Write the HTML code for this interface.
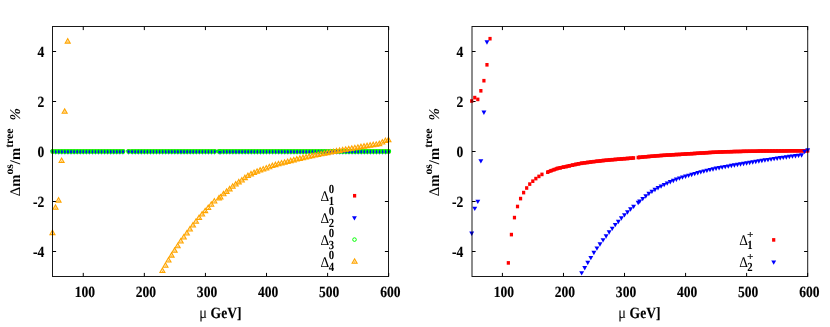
<!DOCTYPE html>
<html><head><meta charset="utf-8"><title>chart</title>
<style>html,body{margin:0;padding:0;background:#fff;}body{width:830px;height:327px;overflow:hidden;font-family:"Liberation Serif",serif;}svg{display:block;will-change:transform}svg text{text-rendering:geometricPrecision}</style>
</head><body>
<svg width="830" height="327" viewBox="0 0 830 327">
<rect width="830" height="327" fill="#fff"/>
<path d="M83.25 276.5v-3.6M83.25 26.5v3.6M144.34 276.5v-3.6M144.34 26.5v3.6M205.43 276.5v-3.6M205.43 26.5v3.6M266.52 276.5v-3.6M266.52 26.5v3.6M327.61 276.5v-3.6M327.61 26.5v3.6M388.70 276.5v-3.6M388.70 26.5v3.6M52.5 251.5h3.6M388.5 251.5h-3.6M52.5 201.5h3.6M388.5 201.5h-3.6M52.5 151.5h3.6M388.5 151.5h-3.6M52.5 101.5h3.6M388.5 101.5h-3.6M52.5 51.5h3.6M388.5 51.5h-3.6" stroke="#000" stroke-width="1" fill="none"/>
<g font-family="Liberation Serif" font-weight="bold" stroke="#000" stroke-width="0.15"><text transform="translate(44.30,256.60) scale(0.87,1)" text-anchor="end" font-size="15.6" >-4</text><text transform="translate(44.30,206.60) scale(0.87,1)" text-anchor="end" font-size="15.6" >-2</text><text transform="translate(44.30,156.60) scale(0.87,1)" text-anchor="end" font-size="15.6" >0</text><text transform="translate(44.30,106.60) scale(0.87,1)" text-anchor="end" font-size="15.6" >2</text><text transform="translate(44.30,56.60) scale(0.87,1)" text-anchor="end" font-size="15.6" >4</text><text transform="translate(84.85,296.60) scale(0.87,1)" text-anchor="middle" font-size="15.6" >100</text><text transform="translate(145.94,296.60) scale(0.87,1)" text-anchor="middle" font-size="15.6" >200</text><text transform="translate(207.03,296.60) scale(0.87,1)" text-anchor="middle" font-size="15.6" >300</text><text transform="translate(268.12,296.60) scale(0.87,1)" text-anchor="middle" font-size="15.6" >400</text><text transform="translate(329.21,296.60) scale(0.87,1)" text-anchor="middle" font-size="15.6" >500</text><text transform="translate(390.30,296.60) scale(0.87,1)" text-anchor="middle" font-size="15.6" >600</text></g>
<text transform="translate(19.799999999999997,196.3) rotate(-90)" font-family="Liberation Serif" font-size="14.7" font-weight="bold"><tspan font-weight="normal">Δ</tspan>m<tspan font-size="11.7" dy="-6.6">os</tspan><tspan dy="6.6">/m</tspan><tspan font-size="11.7" dy="-6.6">tree</tspan><tspan dy="6.6" font-weight="bold" font-style="italic" font-size="14.9" dx="8.0">%</tspan></text>
<g font-family="Liberation Serif" font-weight="bold" stroke="#000" stroke-width="0.15"><text transform="translate(199.20,318.20) scale(0.87,1)" text-anchor="start" font-size="15.6" ><tspan font-weight="normal" stroke="none" font-size="16.6">μ</tspan><tspan dx="0.3"> GeV]</tspan></text></g>
<path d="M502.42 276.5v-3.6M502.42 26.5v3.6M563.48 276.5v-3.6M563.48 26.5v3.6M624.52 276.5v-3.6M624.52 26.5v3.6M685.58 276.5v-3.6M685.58 26.5v3.6M746.62 276.5v-3.6M746.62 26.5v3.6M807.67 276.5v-3.6M807.67 26.5v3.6M472.0 251.5h3.6M807.7 251.5h-3.6M472.0 201.5h3.6M807.7 201.5h-3.6M472.0 151.5h3.6M807.7 151.5h-3.6M472.0 101.5h3.6M807.7 101.5h-3.6M472.0 51.5h3.6M807.7 51.5h-3.6" stroke="#000" stroke-width="1" fill="none"/>
<g font-family="Liberation Serif" font-weight="bold" stroke="#000" stroke-width="0.15"><text transform="translate(463.30,256.60) scale(0.87,1)" text-anchor="end" font-size="15.6" >-4</text><text transform="translate(463.30,206.60) scale(0.87,1)" text-anchor="end" font-size="15.6" >-2</text><text transform="translate(463.30,156.60) scale(0.87,1)" text-anchor="end" font-size="15.6" >0</text><text transform="translate(463.30,106.60) scale(0.87,1)" text-anchor="end" font-size="15.6" >2</text><text transform="translate(463.30,56.60) scale(0.87,1)" text-anchor="end" font-size="15.6" >4</text><text transform="translate(503.85,296.60) scale(0.87,1)" text-anchor="middle" font-size="15.6" >100</text><text transform="translate(564.94,296.60) scale(0.87,1)" text-anchor="middle" font-size="15.6" >200</text><text transform="translate(626.03,296.60) scale(0.87,1)" text-anchor="middle" font-size="15.6" >300</text><text transform="translate(687.12,296.60) scale(0.87,1)" text-anchor="middle" font-size="15.6" >400</text><text transform="translate(748.21,296.60) scale(0.87,1)" text-anchor="middle" font-size="15.6" >500</text><text transform="translate(809.30,296.60) scale(0.87,1)" text-anchor="middle" font-size="15.6" >600</text></g>
<text transform="translate(438.8,196.3) rotate(-90)" font-family="Liberation Serif" font-size="14.7" font-weight="bold"><tspan font-weight="normal">Δ</tspan>m<tspan font-size="11.7" dy="-6.6">os</tspan><tspan dy="6.6">/m</tspan><tspan font-size="11.7" dy="-6.6">tree</tspan><tspan dy="6.6" font-weight="bold" font-style="italic" font-size="14.9" dx="8.0">%</tspan></text>
<g font-family="Liberation Serif" font-weight="bold" stroke="#000" stroke-width="0.15"><text transform="translate(618.20,318.20) scale(0.87,1)" text-anchor="start" font-size="15.6" ><tspan font-weight="normal" stroke="none" font-size="16.6">μ</tspan><tspan dx="0.3"> GeV]</tspan></text></g>
<g fill="#ff0000"><rect x="51.10" y="149.55" width="3.20" height="3.60"/><rect x="54.15" y="149.55" width="3.20" height="3.60"/><rect x="57.21" y="149.55" width="3.20" height="3.60"/><rect x="60.26" y="149.55" width="3.20" height="3.60"/><rect x="63.32" y="149.55" width="3.20" height="3.60"/><rect x="66.37" y="149.55" width="3.20" height="3.60"/><rect x="69.43" y="149.55" width="3.20" height="3.60"/><rect x="72.48" y="149.55" width="3.20" height="3.60"/><rect x="75.54" y="149.55" width="3.20" height="3.60"/><rect x="78.59" y="149.55" width="3.20" height="3.60"/><rect x="81.65" y="149.55" width="3.20" height="3.60"/><rect x="84.70" y="149.55" width="3.20" height="3.60"/><rect x="87.75" y="149.55" width="3.20" height="3.60"/><rect x="90.81" y="149.55" width="3.20" height="3.60"/><rect x="93.86" y="149.55" width="3.20" height="3.60"/><rect x="96.92" y="149.55" width="3.20" height="3.60"/><rect x="99.97" y="149.55" width="3.20" height="3.60"/><rect x="103.03" y="149.55" width="3.20" height="3.60"/><rect x="106.08" y="149.55" width="3.20" height="3.60"/><rect x="109.14" y="149.55" width="3.20" height="3.60"/><rect x="112.19" y="149.55" width="3.20" height="3.60"/><rect x="115.25" y="149.55" width="3.20" height="3.60"/><rect x="118.30" y="149.55" width="3.20" height="3.60"/><rect x="121.35" y="149.55" width="3.20" height="3.60"/><rect x="127.04" y="149.55" width="3.20" height="3.60"/><rect x="130.52" y="149.55" width="3.20" height="3.60"/><rect x="133.57" y="149.55" width="3.20" height="3.60"/><rect x="136.63" y="149.55" width="3.20" height="3.60"/><rect x="139.68" y="149.55" width="3.20" height="3.60"/><rect x="142.74" y="149.55" width="3.20" height="3.60"/><rect x="145.79" y="149.55" width="3.20" height="3.60"/><rect x="148.85" y="149.55" width="3.20" height="3.60"/><rect x="151.90" y="149.55" width="3.20" height="3.60"/><rect x="154.95" y="149.55" width="3.20" height="3.60"/><rect x="158.01" y="149.55" width="3.20" height="3.60"/><rect x="161.06" y="149.55" width="3.20" height="3.60"/><rect x="164.12" y="149.55" width="3.20" height="3.60"/><rect x="167.17" y="149.55" width="3.20" height="3.60"/><rect x="170.23" y="149.55" width="3.20" height="3.60"/><rect x="173.28" y="149.55" width="3.20" height="3.60"/><rect x="176.34" y="149.55" width="3.20" height="3.60"/><rect x="179.39" y="149.55" width="3.20" height="3.60"/><rect x="182.45" y="149.55" width="3.20" height="3.60"/><rect x="185.50" y="149.55" width="3.20" height="3.60"/><rect x="188.55" y="149.55" width="3.20" height="3.60"/><rect x="191.61" y="149.55" width="3.20" height="3.60"/><rect x="194.66" y="149.55" width="3.20" height="3.60"/><rect x="197.72" y="149.55" width="3.20" height="3.60"/><rect x="200.77" y="149.55" width="3.20" height="3.60"/><rect x="203.83" y="149.55" width="3.20" height="3.60"/><rect x="206.88" y="149.55" width="3.20" height="3.60"/><rect x="209.94" y="149.55" width="3.20" height="3.60"/><rect x="212.99" y="149.55" width="3.20" height="3.60"/><rect x="217.57" y="149.55" width="3.20" height="3.60"/><rect x="219.10" y="149.55" width="3.20" height="3.60"/><rect x="222.15" y="149.55" width="3.20" height="3.60"/><rect x="225.21" y="149.55" width="3.20" height="3.60"/><rect x="228.26" y="149.55" width="3.20" height="3.60"/><rect x="231.32" y="149.55" width="3.20" height="3.60"/><rect x="234.37" y="149.55" width="3.20" height="3.60"/><rect x="237.43" y="149.55" width="3.20" height="3.60"/><rect x="240.48" y="149.55" width="3.20" height="3.60"/><rect x="243.54" y="149.55" width="3.20" height="3.60"/><rect x="246.59" y="149.55" width="3.20" height="3.60"/><rect x="249.65" y="149.55" width="3.20" height="3.60"/><rect x="252.70" y="149.55" width="3.20" height="3.60"/><rect x="255.75" y="149.55" width="3.20" height="3.60"/><rect x="258.81" y="149.55" width="3.20" height="3.60"/><rect x="261.86" y="149.55" width="3.20" height="3.60"/><rect x="264.92" y="149.55" width="3.20" height="3.60"/><rect x="267.97" y="149.55" width="3.20" height="3.60"/><rect x="271.03" y="149.55" width="3.20" height="3.60"/><rect x="274.08" y="149.55" width="3.20" height="3.60"/><rect x="277.14" y="149.55" width="3.20" height="3.60"/><rect x="280.19" y="149.55" width="3.20" height="3.60"/><rect x="283.25" y="149.55" width="3.20" height="3.60"/><rect x="286.30" y="149.55" width="3.20" height="3.60"/><rect x="289.35" y="149.55" width="3.20" height="3.60"/><rect x="292.41" y="149.55" width="3.20" height="3.60"/><rect x="295.46" y="149.55" width="3.20" height="3.60"/><rect x="298.52" y="149.55" width="3.20" height="3.60"/><rect x="301.57" y="149.55" width="3.20" height="3.60"/><rect x="304.63" y="149.55" width="3.20" height="3.60"/><rect x="307.68" y="149.55" width="3.20" height="3.60"/><rect x="310.74" y="149.55" width="3.20" height="3.60"/><rect x="313.79" y="149.55" width="3.20" height="3.60"/><rect x="316.85" y="149.55" width="3.20" height="3.60"/><rect x="319.90" y="149.55" width="3.20" height="3.60"/><rect x="322.95" y="149.55" width="3.20" height="3.60"/><rect x="326.01" y="149.55" width="3.20" height="3.60"/><rect x="329.06" y="149.55" width="3.20" height="3.60"/><rect x="332.12" y="149.55" width="3.20" height="3.60"/><rect x="335.17" y="149.55" width="3.20" height="3.60"/><rect x="338.23" y="149.55" width="3.20" height="3.60"/><rect x="341.28" y="149.55" width="3.20" height="3.60"/><rect x="344.34" y="149.55" width="3.20" height="3.60"/><rect x="347.39" y="149.55" width="3.20" height="3.60"/><rect x="350.45" y="149.55" width="3.20" height="3.60"/><rect x="353.50" y="149.55" width="3.20" height="3.60"/><rect x="356.55" y="149.55" width="3.20" height="3.60"/><rect x="359.61" y="149.55" width="3.20" height="3.60"/><rect x="362.66" y="149.55" width="3.20" height="3.60"/><rect x="365.72" y="149.55" width="3.20" height="3.60"/><rect x="368.77" y="149.55" width="3.20" height="3.60"/><rect x="371.83" y="149.55" width="3.20" height="3.60"/><rect x="374.88" y="149.55" width="3.20" height="3.60"/><rect x="377.94" y="149.55" width="3.20" height="3.60"/><rect x="380.99" y="149.55" width="3.20" height="3.60"/><rect x="384.05" y="149.55" width="3.20" height="3.60"/><rect x="387.10" y="149.55" width="3.20" height="3.60"/><rect x="353.00" y="193.95" width="3.20" height="3.60"/></g>
<g fill="#0000ff"><path d="M50.25 150.05H55.15L52.70 154.45z"/><path d="M53.30 150.05H58.20L55.75 154.45z"/><path d="M56.36 150.05H61.26L58.81 154.45z"/><path d="M59.41 150.05H64.31L61.86 154.45z"/><path d="M62.47 150.05H67.37L64.92 154.45z"/><path d="M65.52 150.05H70.42L67.97 154.45z"/><path d="M68.58 150.05H73.48L71.03 154.45z"/><path d="M71.63 150.05H76.53L74.08 154.45z"/><path d="M74.69 150.05H79.59L77.14 154.45z"/><path d="M77.74 150.05H82.64L80.19 154.45z"/><path d="M80.80 150.05H85.70L83.25 154.45z"/><path d="M83.85 150.05H88.75L86.30 154.45z"/><path d="M86.90 150.05H91.80L89.35 154.45z"/><path d="M89.96 150.05H94.86L92.41 154.45z"/><path d="M93.01 150.05H97.91L95.46 154.45z"/><path d="M96.07 150.05H100.97L98.52 154.45z"/><path d="M99.12 150.05H104.02L101.57 154.45z"/><path d="M102.18 150.05H107.08L104.63 154.45z"/><path d="M105.23 150.05H110.13L107.68 154.45z"/><path d="M108.29 150.05H113.19L110.74 154.45z"/><path d="M111.34 150.05H116.24L113.79 154.45z"/><path d="M114.40 150.05H119.30L116.85 154.45z"/><path d="M117.45 150.05H122.35L119.90 154.45z"/><path d="M120.50 150.05H125.40L122.95 154.45z"/><path d="M126.19 150.05H131.09L128.64 154.45z"/><path d="M129.67 150.05H134.57L132.12 154.45z"/><path d="M132.72 150.05H137.62L135.17 154.45z"/><path d="M135.78 150.05H140.68L138.23 154.45z"/><path d="M138.83 150.05H143.73L141.28 154.45z"/><path d="M141.89 150.05H146.79L144.34 154.45z"/><path d="M144.94 150.05H149.84L147.39 154.45z"/><path d="M148.00 150.05H152.90L150.45 154.45z"/><path d="M151.05 150.05H155.95L153.50 154.45z"/><path d="M154.10 150.05H159.00L156.55 154.45z"/><path d="M157.16 150.05H162.06L159.61 154.45z"/><path d="M160.21 150.05H165.11L162.66 154.45z"/><path d="M163.27 150.05H168.17L165.72 154.45z"/><path d="M166.32 150.05H171.22L168.77 154.45z"/><path d="M169.38 150.05H174.28L171.83 154.45z"/><path d="M172.43 150.05H177.33L174.88 154.45z"/><path d="M175.49 150.05H180.39L177.94 154.45z"/><path d="M178.54 150.05H183.44L180.99 154.45z"/><path d="M181.60 150.05H186.50L184.05 154.45z"/><path d="M184.65 150.05H189.55L187.10 154.45z"/><path d="M187.70 150.05H192.60L190.15 154.45z"/><path d="M190.76 150.05H195.66L193.21 154.45z"/><path d="M193.81 150.05H198.71L196.26 154.45z"/><path d="M196.87 150.05H201.77L199.32 154.45z"/><path d="M199.92 150.05H204.82L202.37 154.45z"/><path d="M202.98 150.05H207.88L205.43 154.45z"/><path d="M206.03 150.05H210.93L208.48 154.45z"/><path d="M209.09 150.05H213.99L211.54 154.45z"/><path d="M212.14 150.05H217.04L214.59 154.45z"/><path d="M216.72 150.05H221.62L219.17 154.45z"/><path d="M218.25 150.05H223.15L220.70 154.45z"/><path d="M221.30 150.05H226.20L223.75 154.45z"/><path d="M224.36 150.05H229.26L226.81 154.45z"/><path d="M227.41 150.05H232.31L229.86 154.45z"/><path d="M230.47 150.05H235.37L232.92 154.45z"/><path d="M233.52 150.05H238.42L235.97 154.45z"/><path d="M236.58 150.05H241.48L239.03 154.45z"/><path d="M239.63 150.05H244.53L242.08 154.45z"/><path d="M242.69 150.05H247.59L245.14 154.45z"/><path d="M245.74 150.05H250.64L248.19 154.45z"/><path d="M248.80 150.05H253.70L251.25 154.45z"/><path d="M251.85 150.05H256.75L254.30 154.45z"/><path d="M254.90 150.05H259.80L257.35 154.45z"/><path d="M257.96 150.05H262.86L260.41 154.45z"/><path d="M261.01 150.05H265.91L263.46 154.45z"/><path d="M264.07 150.05H268.97L266.52 154.45z"/><path d="M267.12 150.05H272.02L269.57 154.45z"/><path d="M270.18 150.05H275.08L272.63 154.45z"/><path d="M273.23 150.05H278.13L275.68 154.45z"/><path d="M276.29 150.05H281.19L278.74 154.45z"/><path d="M279.34 150.05H284.24L281.79 154.45z"/><path d="M282.40 150.05H287.30L284.85 154.45z"/><path d="M285.45 150.05H290.35L287.90 154.45z"/><path d="M288.50 150.05H293.40L290.95 154.45z"/><path d="M291.56 150.05H296.46L294.01 154.45z"/><path d="M294.61 150.05H299.51L297.06 154.45z"/><path d="M297.67 150.05H302.57L300.12 154.45z"/><path d="M300.72 150.05H305.62L303.17 154.45z"/><path d="M303.78 150.05H308.68L306.23 154.45z"/><path d="M306.83 150.05H311.73L309.28 154.45z"/><path d="M309.89 150.05H314.79L312.34 154.45z"/><path d="M312.94 150.05H317.84L315.39 154.45z"/><path d="M316.00 150.05H320.90L318.45 154.45z"/><path d="M319.05 150.05H323.95L321.50 154.45z"/><path d="M322.10 150.05H327.00L324.55 154.45z"/><path d="M325.16 150.05H330.06L327.61 154.45z"/><path d="M328.21 150.05H333.11L330.66 154.45z"/><path d="M331.27 150.05H336.17L333.72 154.45z"/><path d="M334.32 150.05H339.22L336.77 154.45z"/><path d="M337.38 150.05H342.28L339.83 154.45z"/><path d="M340.43 150.05H345.33L342.88 154.45z"/><path d="M343.49 150.05H348.39L345.94 154.45z"/><path d="M346.54 150.05H351.44L348.99 154.45z"/><path d="M349.60 150.05H354.50L352.05 154.45z"/><path d="M352.65 150.05H357.55L355.10 154.45z"/><path d="M355.70 150.05H360.60L358.15 154.45z"/><path d="M358.76 150.05H363.66L361.21 154.45z"/><path d="M361.81 150.05H366.71L364.26 154.45z"/><path d="M364.87 150.05H369.77L367.32 154.45z"/><path d="M367.92 150.05H372.82L370.37 154.45z"/><path d="M370.98 150.05H375.88L373.43 154.45z"/><path d="M374.03 150.05H378.93L376.48 154.45z"/><path d="M377.09 150.05H381.99L379.54 154.45z"/><path d="M380.14 150.05H385.04L382.59 154.45z"/><path d="M383.20 150.05H388.10L385.65 154.45z"/><path d="M386.25 150.05H391.15L388.70 154.45z"/><path d="M352.00 216.15H356.90L354.45 220.55z"/></g>
<g fill="none" stroke="#00ff00" stroke-width="1.25"><circle cx="52.70" cy="151.45" r="1.85"/><circle cx="55.75" cy="151.45" r="1.85"/><circle cx="58.81" cy="151.45" r="1.85"/><circle cx="61.86" cy="151.45" r="1.85"/><circle cx="64.92" cy="151.45" r="1.85"/><circle cx="67.97" cy="151.45" r="1.85"/><circle cx="71.03" cy="151.45" r="1.85"/><circle cx="74.08" cy="151.45" r="1.85"/><circle cx="77.14" cy="151.45" r="1.85"/><circle cx="80.19" cy="151.45" r="1.85"/><circle cx="83.25" cy="151.45" r="1.85"/><circle cx="86.30" cy="151.45" r="1.85"/><circle cx="89.35" cy="151.45" r="1.85"/><circle cx="92.41" cy="151.45" r="1.85"/><circle cx="95.46" cy="151.45" r="1.85"/><circle cx="98.52" cy="151.45" r="1.85"/><circle cx="101.57" cy="151.45" r="1.85"/><circle cx="104.63" cy="151.45" r="1.85"/><circle cx="107.68" cy="151.45" r="1.85"/><circle cx="110.74" cy="151.45" r="1.85"/><circle cx="113.79" cy="151.45" r="1.85"/><circle cx="116.85" cy="151.45" r="1.85"/><circle cx="119.90" cy="151.45" r="1.85"/><circle cx="122.95" cy="151.45" r="1.85"/><circle cx="128.64" cy="151.45" r="1.85"/><circle cx="132.12" cy="151.45" r="1.85"/><circle cx="135.17" cy="151.45" r="1.85"/><circle cx="138.23" cy="151.45" r="1.85"/><circle cx="141.28" cy="151.45" r="1.85"/><circle cx="144.34" cy="151.45" r="1.85"/><circle cx="147.39" cy="151.45" r="1.85"/><circle cx="150.45" cy="151.45" r="1.85"/><circle cx="153.50" cy="151.45" r="1.85"/><circle cx="156.55" cy="151.45" r="1.85"/><circle cx="159.61" cy="151.45" r="1.85"/><circle cx="162.66" cy="151.45" r="1.85"/><circle cx="165.72" cy="151.45" r="1.85"/><circle cx="168.77" cy="151.45" r="1.85"/><circle cx="171.83" cy="151.45" r="1.85"/><circle cx="174.88" cy="151.45" r="1.85"/><circle cx="177.94" cy="151.45" r="1.85"/><circle cx="180.99" cy="151.45" r="1.85"/><circle cx="184.05" cy="151.45" r="1.85"/><circle cx="187.10" cy="151.45" r="1.85"/><circle cx="190.15" cy="151.45" r="1.85"/><circle cx="193.21" cy="151.45" r="1.85"/><circle cx="196.26" cy="151.45" r="1.85"/><circle cx="199.32" cy="151.45" r="1.85"/><circle cx="202.37" cy="151.45" r="1.85"/><circle cx="205.43" cy="151.45" r="1.85"/><circle cx="208.48" cy="151.45" r="1.85"/><circle cx="211.54" cy="151.45" r="1.85"/><circle cx="214.59" cy="151.45" r="1.85"/><circle cx="219.17" cy="151.45" r="1.85"/><circle cx="220.70" cy="151.45" r="1.85"/><circle cx="223.75" cy="151.45" r="1.85"/><circle cx="226.81" cy="151.45" r="1.85"/><circle cx="229.86" cy="151.45" r="1.85"/><circle cx="232.92" cy="151.45" r="1.85"/><circle cx="235.97" cy="151.45" r="1.85"/><circle cx="239.03" cy="151.45" r="1.85"/><circle cx="242.08" cy="151.45" r="1.85"/><circle cx="245.14" cy="151.45" r="1.85"/><circle cx="248.19" cy="151.45" r="1.85"/><circle cx="251.25" cy="151.45" r="1.85"/><circle cx="254.30" cy="151.45" r="1.85"/><circle cx="257.35" cy="151.45" r="1.85"/><circle cx="260.41" cy="151.45" r="1.85"/><circle cx="263.46" cy="151.45" r="1.85"/><circle cx="266.52" cy="151.45" r="1.85"/><circle cx="269.57" cy="151.45" r="1.85"/><circle cx="272.63" cy="151.45" r="1.85"/><circle cx="275.68" cy="151.45" r="1.85"/><circle cx="278.74" cy="151.45" r="1.85"/><circle cx="281.79" cy="151.45" r="1.85"/><circle cx="284.85" cy="151.45" r="1.85"/><circle cx="287.90" cy="151.45" r="1.85"/><circle cx="290.95" cy="151.45" r="1.85"/><circle cx="294.01" cy="151.45" r="1.85"/><circle cx="297.06" cy="151.45" r="1.85"/><circle cx="300.12" cy="151.45" r="1.85"/><circle cx="303.17" cy="151.45" r="1.85"/><circle cx="306.23" cy="151.45" r="1.85"/><circle cx="309.28" cy="151.45" r="1.85"/><circle cx="312.34" cy="151.45" r="1.85"/><circle cx="315.39" cy="151.45" r="1.85"/><circle cx="318.45" cy="151.45" r="1.85"/><circle cx="321.50" cy="151.45" r="1.85"/><circle cx="324.55" cy="151.45" r="1.85"/><circle cx="327.61" cy="151.45" r="1.85"/><circle cx="330.66" cy="151.45" r="1.85"/><circle cx="333.72" cy="151.45" r="1.85"/><circle cx="336.77" cy="151.45" r="1.85"/><circle cx="339.83" cy="151.45" r="1.85"/><circle cx="342.88" cy="151.45" r="1.85"/><circle cx="345.94" cy="151.45" r="1.85"/><circle cx="348.99" cy="151.45" r="1.85"/><circle cx="352.05" cy="151.45" r="1.85"/><circle cx="355.10" cy="151.45" r="1.85"/><circle cx="358.15" cy="151.45" r="1.85"/><circle cx="361.21" cy="151.45" r="1.85"/><circle cx="364.26" cy="151.45" r="1.85"/><circle cx="367.32" cy="151.45" r="1.85"/><circle cx="370.37" cy="151.45" r="1.85"/><circle cx="373.43" cy="151.45" r="1.85"/><circle cx="376.48" cy="151.45" r="1.85"/><circle cx="379.54" cy="151.45" r="1.85"/><circle cx="382.59" cy="151.45" r="1.85"/><circle cx="385.65" cy="151.45" r="1.85"/><circle cx="388.70" cy="151.45" r="1.85"/></g>
<g fill="none" stroke="#00ff00" stroke-width="1.0"><circle cx="354.50" cy="239.60" r="1.8"/></g>
<g fill="#0000ff"><ellipse cx="52.70" cy="152.2" rx="0.7" ry="1.15"/><ellipse cx="55.75" cy="152.2" rx="0.7" ry="1.15"/><ellipse cx="58.81" cy="152.2" rx="0.7" ry="1.15"/><ellipse cx="61.86" cy="152.2" rx="0.7" ry="1.15"/><ellipse cx="64.92" cy="152.2" rx="0.7" ry="1.15"/><ellipse cx="67.97" cy="152.2" rx="0.7" ry="1.15"/><ellipse cx="71.03" cy="152.2" rx="0.7" ry="1.15"/><ellipse cx="74.08" cy="152.2" rx="0.7" ry="1.15"/><ellipse cx="77.14" cy="152.2" rx="0.7" ry="1.15"/><ellipse cx="80.19" cy="152.2" rx="0.7" ry="1.15"/><ellipse cx="83.25" cy="152.2" rx="0.7" ry="1.15"/><ellipse cx="86.30" cy="152.2" rx="0.7" ry="1.15"/><ellipse cx="89.35" cy="152.2" rx="0.7" ry="1.15"/><ellipse cx="92.41" cy="152.2" rx="0.7" ry="1.15"/><ellipse cx="95.46" cy="152.2" rx="0.7" ry="1.15"/><ellipse cx="98.52" cy="152.2" rx="0.7" ry="1.15"/><ellipse cx="101.57" cy="152.2" rx="0.7" ry="1.15"/><ellipse cx="104.63" cy="152.2" rx="0.7" ry="1.15"/><ellipse cx="107.68" cy="152.2" rx="0.7" ry="1.15"/><ellipse cx="110.74" cy="152.2" rx="0.7" ry="1.15"/><ellipse cx="113.79" cy="152.2" rx="0.7" ry="1.15"/><ellipse cx="116.85" cy="152.2" rx="0.7" ry="1.15"/><ellipse cx="119.90" cy="152.2" rx="0.7" ry="1.15"/><ellipse cx="122.95" cy="152.2" rx="0.7" ry="1.15"/><ellipse cx="128.64" cy="152.2" rx="0.7" ry="1.15"/><ellipse cx="132.12" cy="152.2" rx="0.7" ry="1.15"/><ellipse cx="135.17" cy="152.2" rx="0.7" ry="1.15"/><ellipse cx="138.23" cy="152.2" rx="0.7" ry="1.15"/><ellipse cx="141.28" cy="152.2" rx="0.7" ry="1.15"/><ellipse cx="144.34" cy="152.2" rx="0.7" ry="1.15"/><ellipse cx="147.39" cy="152.2" rx="0.7" ry="1.15"/><ellipse cx="150.45" cy="152.2" rx="0.7" ry="1.15"/><ellipse cx="153.50" cy="152.2" rx="0.7" ry="1.15"/><ellipse cx="156.55" cy="152.2" rx="0.7" ry="1.15"/><ellipse cx="159.61" cy="152.2" rx="0.7" ry="1.15"/><ellipse cx="162.66" cy="152.2" rx="0.7" ry="1.15"/><ellipse cx="165.72" cy="152.2" rx="0.7" ry="1.15"/><ellipse cx="168.77" cy="152.2" rx="0.7" ry="1.15"/><ellipse cx="171.83" cy="152.2" rx="0.7" ry="1.15"/><ellipse cx="174.88" cy="152.2" rx="0.7" ry="1.15"/><ellipse cx="177.94" cy="152.2" rx="0.7" ry="1.15"/><ellipse cx="180.99" cy="152.2" rx="0.7" ry="1.15"/><ellipse cx="184.05" cy="152.2" rx="0.7" ry="1.15"/><ellipse cx="187.10" cy="152.2" rx="0.7" ry="1.15"/><ellipse cx="190.15" cy="152.2" rx="0.7" ry="1.15"/><ellipse cx="193.21" cy="152.2" rx="0.7" ry="1.15"/><ellipse cx="196.26" cy="152.2" rx="0.7" ry="1.15"/><ellipse cx="199.32" cy="152.2" rx="0.7" ry="1.15"/><ellipse cx="202.37" cy="152.2" rx="0.7" ry="1.15"/><ellipse cx="205.43" cy="152.2" rx="0.7" ry="1.15"/><ellipse cx="208.48" cy="152.2" rx="0.7" ry="1.15"/><ellipse cx="211.54" cy="152.2" rx="0.7" ry="1.15"/><ellipse cx="214.59" cy="152.2" rx="0.7" ry="1.15"/><ellipse cx="219.17" cy="152.2" rx="0.7" ry="1.15"/><ellipse cx="220.70" cy="152.2" rx="0.7" ry="1.15"/><ellipse cx="223.75" cy="152.2" rx="0.7" ry="1.15"/><ellipse cx="226.81" cy="152.2" rx="0.7" ry="1.15"/><ellipse cx="229.86" cy="152.2" rx="0.7" ry="1.15"/><ellipse cx="232.92" cy="152.2" rx="0.7" ry="1.15"/><ellipse cx="235.97" cy="152.2" rx="0.7" ry="1.15"/><ellipse cx="239.03" cy="152.2" rx="0.7" ry="1.15"/><ellipse cx="242.08" cy="152.2" rx="0.7" ry="1.15"/><ellipse cx="245.14" cy="152.2" rx="0.7" ry="1.15"/><ellipse cx="248.19" cy="152.2" rx="0.7" ry="1.15"/><ellipse cx="251.25" cy="152.2" rx="0.7" ry="1.15"/><ellipse cx="254.30" cy="152.2" rx="0.7" ry="1.15"/><ellipse cx="257.35" cy="152.2" rx="0.7" ry="1.15"/><ellipse cx="260.41" cy="152.2" rx="0.7" ry="1.15"/><ellipse cx="263.46" cy="152.2" rx="0.7" ry="1.15"/><ellipse cx="266.52" cy="152.2" rx="0.7" ry="1.15"/><ellipse cx="269.57" cy="152.2" rx="0.7" ry="1.15"/><ellipse cx="272.63" cy="152.2" rx="0.7" ry="1.15"/><ellipse cx="275.68" cy="152.2" rx="0.7" ry="1.15"/><ellipse cx="278.74" cy="152.2" rx="0.7" ry="1.15"/><ellipse cx="281.79" cy="152.2" rx="0.7" ry="1.15"/><ellipse cx="284.85" cy="152.2" rx="0.7" ry="1.15"/><ellipse cx="287.90" cy="152.2" rx="0.7" ry="1.15"/><ellipse cx="290.95" cy="152.2" rx="0.7" ry="1.15"/><ellipse cx="294.01" cy="152.2" rx="0.7" ry="1.15"/><ellipse cx="297.06" cy="152.2" rx="0.7" ry="1.15"/><ellipse cx="300.12" cy="152.2" rx="0.7" ry="1.15"/><ellipse cx="303.17" cy="152.2" rx="0.7" ry="1.15"/><ellipse cx="306.23" cy="152.2" rx="0.7" ry="1.15"/><ellipse cx="309.28" cy="152.2" rx="0.7" ry="1.15"/><ellipse cx="312.34" cy="152.2" rx="0.7" ry="1.15"/><ellipse cx="315.39" cy="152.2" rx="0.7" ry="1.15"/><ellipse cx="318.45" cy="152.2" rx="0.7" ry="1.15"/><ellipse cx="321.50" cy="152.2" rx="0.7" ry="1.15"/><ellipse cx="324.55" cy="152.2" rx="0.7" ry="1.15"/><ellipse cx="327.61" cy="152.2" rx="0.7" ry="1.15"/><ellipse cx="330.66" cy="152.2" rx="0.7" ry="1.15"/><ellipse cx="333.72" cy="152.2" rx="0.7" ry="1.15"/><ellipse cx="336.77" cy="152.2" rx="0.7" ry="1.15"/><ellipse cx="339.83" cy="152.2" rx="0.7" ry="1.15"/><ellipse cx="342.88" cy="152.2" rx="0.7" ry="1.15"/><ellipse cx="345.94" cy="152.2" rx="0.7" ry="1.15"/><ellipse cx="348.99" cy="152.2" rx="0.7" ry="1.15"/><ellipse cx="352.05" cy="152.2" rx="0.7" ry="1.15"/><ellipse cx="355.10" cy="152.2" rx="0.7" ry="1.15"/><ellipse cx="358.15" cy="152.2" rx="0.7" ry="1.15"/><ellipse cx="361.21" cy="152.2" rx="0.7" ry="1.15"/><ellipse cx="364.26" cy="152.2" rx="0.7" ry="1.15"/><ellipse cx="367.32" cy="152.2" rx="0.7" ry="1.15"/><ellipse cx="370.37" cy="152.2" rx="0.7" ry="1.15"/><ellipse cx="373.43" cy="152.2" rx="0.7" ry="1.15"/><ellipse cx="376.48" cy="152.2" rx="0.7" ry="1.15"/><ellipse cx="379.54" cy="152.2" rx="0.7" ry="1.15"/><ellipse cx="382.59" cy="152.2" rx="0.7" ry="1.15"/><ellipse cx="385.65" cy="152.2" rx="0.7" ry="1.15"/><ellipse cx="388.70" cy="152.2" rx="0.7" ry="1.15"/></g>
<g fill="#0000ff" fill-opacity="0.2"><circle cx="52.70" cy="154.5" r="0.5"/><circle cx="55.75" cy="154.5" r="0.5"/><circle cx="58.81" cy="154.5" r="0.5"/><circle cx="61.86" cy="154.5" r="0.5"/><circle cx="64.92" cy="154.5" r="0.5"/><circle cx="67.97" cy="154.5" r="0.5"/><circle cx="71.03" cy="154.5" r="0.5"/><circle cx="74.08" cy="154.5" r="0.5"/><circle cx="77.14" cy="154.5" r="0.5"/><circle cx="80.19" cy="154.5" r="0.5"/><circle cx="83.25" cy="154.5" r="0.5"/><circle cx="86.30" cy="154.5" r="0.5"/><circle cx="89.35" cy="154.5" r="0.5"/><circle cx="92.41" cy="154.5" r="0.5"/><circle cx="95.46" cy="154.5" r="0.5"/><circle cx="98.52" cy="154.5" r="0.5"/><circle cx="101.57" cy="154.5" r="0.5"/><circle cx="104.63" cy="154.5" r="0.5"/><circle cx="107.68" cy="154.5" r="0.5"/><circle cx="110.74" cy="154.5" r="0.5"/><circle cx="113.79" cy="154.5" r="0.5"/><circle cx="116.85" cy="154.5" r="0.5"/><circle cx="119.90" cy="154.5" r="0.5"/><circle cx="122.95" cy="154.5" r="0.5"/><circle cx="128.64" cy="154.5" r="0.5"/><circle cx="132.12" cy="154.5" r="0.5"/><circle cx="135.17" cy="154.5" r="0.5"/><circle cx="138.23" cy="154.5" r="0.5"/><circle cx="141.28" cy="154.5" r="0.5"/><circle cx="144.34" cy="154.5" r="0.5"/><circle cx="147.39" cy="154.5" r="0.5"/><circle cx="150.45" cy="154.5" r="0.5"/><circle cx="153.50" cy="154.5" r="0.5"/><circle cx="156.55" cy="154.5" r="0.5"/><circle cx="159.61" cy="154.5" r="0.5"/><circle cx="162.66" cy="154.5" r="0.5"/><circle cx="165.72" cy="154.5" r="0.5"/><circle cx="168.77" cy="154.5" r="0.5"/><circle cx="171.83" cy="154.5" r="0.5"/><circle cx="174.88" cy="154.5" r="0.5"/><circle cx="177.94" cy="154.5" r="0.5"/><circle cx="180.99" cy="154.5" r="0.5"/><circle cx="184.05" cy="154.5" r="0.5"/><circle cx="187.10" cy="154.5" r="0.5"/><circle cx="190.15" cy="154.5" r="0.5"/><circle cx="193.21" cy="154.5" r="0.5"/><circle cx="196.26" cy="154.5" r="0.5"/><circle cx="199.32" cy="154.5" r="0.5"/><circle cx="202.37" cy="154.5" r="0.5"/><circle cx="205.43" cy="154.5" r="0.5"/><circle cx="208.48" cy="154.5" r="0.5"/><circle cx="211.54" cy="154.5" r="0.5"/><circle cx="214.59" cy="154.5" r="0.5"/><circle cx="219.17" cy="154.5" r="0.5"/><circle cx="220.70" cy="154.5" r="0.5"/><circle cx="223.75" cy="154.5" r="0.5"/><circle cx="226.81" cy="154.5" r="0.5"/><circle cx="229.86" cy="154.5" r="0.5"/><circle cx="232.92" cy="154.5" r="0.5"/><circle cx="235.97" cy="154.5" r="0.5"/><circle cx="239.03" cy="154.5" r="0.5"/><circle cx="242.08" cy="154.5" r="0.5"/><circle cx="245.14" cy="154.5" r="0.5"/><circle cx="248.19" cy="154.5" r="0.5"/><circle cx="251.25" cy="154.5" r="0.5"/><circle cx="254.30" cy="154.5" r="0.5"/><circle cx="257.35" cy="154.5" r="0.5"/><circle cx="260.41" cy="154.5" r="0.5"/><circle cx="263.46" cy="154.5" r="0.5"/><circle cx="266.52" cy="154.5" r="0.5"/><circle cx="269.57" cy="154.5" r="0.5"/><circle cx="272.63" cy="154.5" r="0.5"/><circle cx="275.68" cy="154.5" r="0.5"/><circle cx="278.74" cy="154.5" r="0.5"/><circle cx="281.79" cy="154.5" r="0.5"/><circle cx="284.85" cy="154.5" r="0.5"/><circle cx="287.90" cy="154.5" r="0.5"/><circle cx="290.95" cy="154.5" r="0.5"/><circle cx="294.01" cy="154.5" r="0.5"/><circle cx="297.06" cy="154.5" r="0.5"/><circle cx="300.12" cy="154.5" r="0.5"/><circle cx="303.17" cy="154.5" r="0.5"/><circle cx="306.23" cy="154.5" r="0.5"/><circle cx="309.28" cy="154.5" r="0.5"/><circle cx="312.34" cy="154.5" r="0.5"/><circle cx="315.39" cy="154.5" r="0.5"/><circle cx="318.45" cy="154.5" r="0.5"/><circle cx="321.50" cy="154.5" r="0.5"/><circle cx="324.55" cy="154.5" r="0.5"/><circle cx="327.61" cy="154.5" r="0.5"/><circle cx="330.66" cy="154.5" r="0.5"/><circle cx="333.72" cy="154.5" r="0.5"/><circle cx="336.77" cy="154.5" r="0.5"/><circle cx="339.83" cy="154.5" r="0.5"/><circle cx="342.88" cy="154.5" r="0.5"/><circle cx="345.94" cy="154.5" r="0.5"/><circle cx="348.99" cy="154.5" r="0.5"/><circle cx="352.05" cy="154.5" r="0.5"/><circle cx="355.10" cy="154.5" r="0.5"/><circle cx="358.15" cy="154.5" r="0.5"/><circle cx="361.21" cy="154.5" r="0.5"/><circle cx="364.26" cy="154.5" r="0.5"/><circle cx="367.32" cy="154.5" r="0.5"/><circle cx="370.37" cy="154.5" r="0.5"/><circle cx="373.43" cy="154.5" r="0.5"/><circle cx="376.48" cy="154.5" r="0.5"/><circle cx="379.54" cy="154.5" r="0.5"/><circle cx="382.59" cy="154.5" r="0.5"/><circle cx="385.65" cy="154.5" r="0.5"/><circle cx="388.70" cy="154.5" r="0.5"/></g>
<g fill="#ffa500" fill-opacity="0.22" stroke="#ffa500" stroke-width="1.1"><path d="M49.95 234.60H54.95L52.45 230.20z"/><path d="M53.00 209.30H58.00L55.50 204.90z"/><path d="M56.06 202.10H61.06L58.56 197.70z"/><path d="M59.11 162.50H64.11L61.61 158.10z"/><path d="M62.17 113.30H67.17L64.67 108.90z"/><path d="M65.22 43.10H70.22L67.72 38.70z"/><path d="M159.91 272.50H164.91L162.41 268.10z"/><path d="M162.97 267.20H167.97L165.47 262.80z"/><path d="M166.02 262.00H171.02L168.52 257.60z"/><path d="M169.08 257.10H174.08L171.58 252.70z"/><path d="M172.13 252.30H177.13L174.63 247.90z"/><path d="M175.19 247.70H180.19L177.69 243.30z"/><path d="M178.24 243.00H183.24L180.74 238.60z"/><path d="M181.30 238.95H186.30L183.80 234.55z"/><path d="M184.35 235.05H189.35L186.85 230.65z"/><path d="M187.40 230.95H192.40L189.90 226.55z"/><path d="M190.46 227.05H195.46L192.96 222.65z"/><path d="M193.51 223.25H198.51L196.01 218.85z"/><path d="M196.57 219.55H201.57L199.07 215.15z"/><path d="M199.62 216.05H204.62L202.12 211.65z"/><path d="M202.68 212.65H207.68L205.18 208.25z"/><path d="M205.73 209.55H210.73L208.23 205.15z"/><path d="M208.79 206.25H213.79L211.29 201.85z"/><path d="M211.84 202.95H216.84L214.34 198.55z"/><path d="M216.42 200.00H221.42L218.92 195.60z"/><path d="M217.95 199.00H222.95L220.45 194.60z"/><path d="M221.00 195.80H226.00L223.50 191.40z"/><path d="M224.06 193.35H229.06L226.56 188.95z"/><path d="M227.11 190.85H232.11L229.61 186.45z"/><path d="M230.17 188.25H235.17L232.67 183.85z"/><path d="M233.22 186.05H238.22L235.72 181.65z"/><path d="M236.28 183.85H241.28L238.78 179.45z"/><path d="M239.33 182.00H244.33L241.83 177.60z"/><path d="M242.39 179.58H247.39L244.89 175.18z"/><path d="M245.44 177.53H250.44L247.94 173.13z"/><path d="M248.50 175.83H253.50L251.00 171.43z"/><path d="M251.55 174.42H256.55L254.05 170.02z"/><path d="M254.60 173.16H259.60L257.10 168.76z"/><path d="M257.66 172.03H262.66L260.16 167.63z"/><path d="M260.71 171.00H265.71L263.21 166.60z"/><path d="M263.77 169.95H268.77L266.27 165.55z"/><path d="M266.82 168.70H271.82L269.32 164.30z"/><path d="M269.88 167.56H274.88L272.38 163.16z"/><path d="M272.93 166.62H277.93L275.43 162.22z"/><path d="M275.99 165.78H280.99L278.49 161.38z"/><path d="M279.04 164.99H284.04L281.54 160.59z"/><path d="M282.10 164.20H287.10L284.60 159.80z"/><path d="M285.15 163.40H290.15L287.65 159.00z"/><path d="M288.20 162.61H293.20L290.70 158.21z"/><path d="M291.26 161.83H296.26L293.76 157.43z"/><path d="M294.31 161.07H299.31L296.81 156.67z"/><path d="M297.37 160.33H302.37L299.87 155.93z"/><path d="M300.42 159.61H305.42L302.92 155.21z"/><path d="M303.48 158.91H308.48L305.98 154.51z"/><path d="M306.53 158.26H311.53L309.03 153.86z"/><path d="M309.59 157.62H314.59L312.09 153.22z"/><path d="M312.64 157.01H317.64L315.14 152.61z"/><path d="M315.70 156.40H320.70L318.20 152.00z"/><path d="M318.75 155.79H323.75L321.25 151.39z"/><path d="M321.80 155.18H326.80L324.30 150.78z"/><path d="M324.86 154.58H329.86L327.36 150.18z"/><path d="M327.91 153.99H332.91L330.41 149.59z"/><path d="M330.97 153.42H335.97L333.47 149.02z"/><path d="M334.02 152.88H339.02L336.52 148.48z"/><path d="M337.08 152.35H342.08L339.58 147.95z"/><path d="M340.13 151.82H345.13L342.63 147.42z"/><path d="M343.19 151.30H348.19L345.69 146.90z"/><path d="M346.24 150.76H351.24L348.74 146.36z"/><path d="M349.30 150.22H354.30L351.80 145.82z"/><path d="M352.35 149.69H357.35L354.85 145.29z"/><path d="M355.40 149.16H360.40L357.90 144.76z"/><path d="M358.46 148.63H363.46L360.96 144.23z"/><path d="M361.51 148.12H366.51L364.01 143.72z"/><path d="M364.57 147.61H369.57L367.07 143.21z"/><path d="M367.62 147.10H372.62L370.12 142.70z"/><path d="M370.68 146.60H375.68L373.18 142.20z"/><path d="M373.73 146.16H378.73L376.23 141.76z"/><path d="M376.79 145.60H381.79L379.29 141.20z"/><path d="M379.84 144.00H384.84L382.34 139.60z"/><path d="M382.90 142.40H387.90L385.40 138.00z"/><path d="M385.95 141.80H390.95L388.45 137.40z"/><path d="M352.10 263.20H357.10L354.60 258.80z"/></g>
<g fill="#ffa500"><circle cx="52.70" cy="233.40" r="0.6"/><circle cx="55.75" cy="208.10" r="0.6"/><circle cx="58.81" cy="200.90" r="0.6"/><circle cx="61.86" cy="161.30" r="0.6"/><circle cx="64.92" cy="112.10" r="0.6"/><circle cx="67.97" cy="41.90" r="0.6"/><circle cx="162.66" cy="271.30" r="0.6"/><circle cx="165.72" cy="266.00" r="0.6"/><circle cx="168.77" cy="260.80" r="0.6"/><circle cx="171.83" cy="255.90" r="0.6"/><circle cx="174.88" cy="251.10" r="0.6"/><circle cx="177.94" cy="246.50" r="0.6"/><circle cx="180.99" cy="241.80" r="0.6"/><circle cx="184.05" cy="237.75" r="0.6"/><circle cx="187.10" cy="233.85" r="0.6"/><circle cx="190.15" cy="229.75" r="0.6"/><circle cx="193.21" cy="225.85" r="0.6"/><circle cx="196.26" cy="222.05" r="0.6"/><circle cx="199.32" cy="218.35" r="0.6"/><circle cx="202.37" cy="214.85" r="0.6"/><circle cx="205.43" cy="211.45" r="0.6"/><circle cx="208.48" cy="208.35" r="0.6"/><circle cx="211.54" cy="205.05" r="0.6"/><circle cx="214.59" cy="201.75" r="0.6"/><circle cx="219.17" cy="198.80" r="0.6"/><circle cx="220.70" cy="197.80" r="0.6"/><circle cx="223.75" cy="194.60" r="0.6"/><circle cx="226.81" cy="192.15" r="0.6"/><circle cx="229.86" cy="189.65" r="0.6"/><circle cx="232.92" cy="187.05" r="0.6"/><circle cx="235.97" cy="184.85" r="0.6"/><circle cx="239.03" cy="182.65" r="0.6"/><circle cx="242.08" cy="180.80" r="0.6"/><circle cx="245.14" cy="178.38" r="0.6"/><circle cx="248.19" cy="176.33" r="0.6"/><circle cx="251.25" cy="174.63" r="0.6"/><circle cx="254.30" cy="173.22" r="0.6"/><circle cx="257.35" cy="171.96" r="0.6"/><circle cx="260.41" cy="170.83" r="0.6"/><circle cx="263.46" cy="169.80" r="0.6"/><circle cx="266.52" cy="168.75" r="0.6"/><circle cx="269.57" cy="167.50" r="0.6"/><circle cx="272.63" cy="166.36" r="0.6"/><circle cx="275.68" cy="165.42" r="0.6"/><circle cx="278.74" cy="164.58" r="0.6"/><circle cx="281.79" cy="163.79" r="0.6"/><circle cx="284.85" cy="163.00" r="0.6"/><circle cx="287.90" cy="162.20" r="0.6"/><circle cx="290.95" cy="161.41" r="0.6"/><circle cx="294.01" cy="160.63" r="0.6"/><circle cx="297.06" cy="159.87" r="0.6"/><circle cx="300.12" cy="159.13" r="0.6"/><circle cx="303.17" cy="158.41" r="0.6"/><circle cx="306.23" cy="157.71" r="0.6"/><circle cx="309.28" cy="157.06" r="0.6"/><circle cx="312.34" cy="156.42" r="0.6"/><circle cx="315.39" cy="155.81" r="0.6"/><circle cx="318.45" cy="155.20" r="0.6"/><circle cx="321.50" cy="154.59" r="0.6"/><circle cx="324.55" cy="153.98" r="0.6"/><circle cx="327.61" cy="153.38" r="0.6"/><circle cx="330.66" cy="152.79" r="0.6"/><circle cx="333.72" cy="152.22" r="0.6"/><circle cx="336.77" cy="151.68" r="0.6"/><circle cx="339.83" cy="151.15" r="0.6"/><circle cx="342.88" cy="150.62" r="0.6"/><circle cx="345.94" cy="150.10" r="0.6"/><circle cx="348.99" cy="149.56" r="0.6"/><circle cx="352.05" cy="149.02" r="0.6"/><circle cx="355.10" cy="148.49" r="0.6"/><circle cx="358.15" cy="147.96" r="0.6"/><circle cx="361.21" cy="147.43" r="0.6"/><circle cx="364.26" cy="146.92" r="0.6"/><circle cx="367.32" cy="146.41" r="0.6"/><circle cx="370.37" cy="145.90" r="0.6"/><circle cx="373.43" cy="145.40" r="0.6"/><circle cx="376.48" cy="144.96" r="0.6"/><circle cx="379.54" cy="144.40" r="0.6"/><circle cx="382.59" cy="142.80" r="0.6"/><circle cx="385.65" cy="141.20" r="0.6"/><circle cx="388.70" cy="140.60" r="0.6"/><circle cx="354.6" cy="262.0" r="0.6"/></g>
<g font-family="Liberation Serif"><text transform="translate(320.50,200.60) scale(0.92,1)" text-anchor="start" font-size="14.7" >Δ</text><text transform="translate(328.70,193.00) scale(0.87,1)" text-anchor="start" font-size="12.4" font-weight="bold">0</text><text transform="translate(328.70,205.00) scale(0.87,1)" text-anchor="start" font-size="12.4" font-weight="bold">1</text></g>
<g font-family="Liberation Serif"><text transform="translate(320.50,222.60) scale(0.92,1)" text-anchor="start" font-size="14.7" >Δ</text><text transform="translate(328.70,215.00) scale(0.87,1)" text-anchor="start" font-size="12.4" font-weight="bold">0</text><text transform="translate(328.70,227.00) scale(0.87,1)" text-anchor="start" font-size="12.4" font-weight="bold">2</text></g>
<g font-family="Liberation Serif"><text transform="translate(320.50,244.60) scale(0.92,1)" text-anchor="start" font-size="14.7" >Δ</text><text transform="translate(328.70,237.00) scale(0.87,1)" text-anchor="start" font-size="12.4" font-weight="bold">0</text><text transform="translate(328.70,249.00) scale(0.87,1)" text-anchor="start" font-size="12.4" font-weight="bold">3</text></g>
<g font-family="Liberation Serif"><text transform="translate(320.50,266.60) scale(0.92,1)" text-anchor="start" font-size="14.7" >Δ</text><text transform="translate(328.70,259.00) scale(0.87,1)" text-anchor="start" font-size="12.4" font-weight="bold">0</text><text transform="translate(328.70,271.00) scale(0.87,1)" text-anchor="start" font-size="12.4" font-weight="bold">4</text></g>
<path d="M547.64 172.17L551.12 170.70L554.17 169.60L557.23 168.50L560.28 167.80L563.34 167.10L566.39 166.50L569.45 165.80L572.50 165.11L575.55 164.42L578.61 163.80L581.66 163.29L584.72 162.83L587.77 162.40L590.83 162.00L593.88 161.63L596.94 161.27L599.99 160.92L603.05 160.59L606.10 160.28L609.15 159.98L612.21 159.69L615.26 159.41L618.32 159.15L621.37 158.90L624.43 158.67L627.48 158.45L630.54 158.23L633.59 157.98M638.17 157.51L639.70 157.35L642.75 157.05L645.81 156.77L648.86 156.49L651.92 156.22L654.97 155.97L658.03 155.73L661.08 155.51L664.14 155.31L667.19 155.11L670.25 154.93L673.30 154.75L676.35 154.58L679.41 154.39L682.46 154.20L685.52 154.01L688.57 153.83L691.63 153.64L694.68 153.45L697.74 153.27L700.79 153.09L703.85 152.90L706.90 152.70L709.95 152.51L713.01 152.33L716.06 152.17L719.12 152.04L722.17 151.93L725.23 151.83L728.28 151.74L731.34 151.65L734.39 151.57L737.45 151.49L740.50 151.42L743.55 151.35L746.61 151.29L749.66 151.23L752.72 151.18L755.77 151.14L758.83 151.10L761.88 151.07L764.94 151.03L767.99 151.01L771.05 150.98L774.10 150.96L777.15 150.94L780.21 150.92L783.26 150.90L786.32 150.88L789.37 150.87L792.43 150.85L795.48 150.84L798.54 150.83L801.59 150.82L804.65 150.81L807.70 150.80" fill="none" stroke="#ff0000" stroke-width="3.5" stroke-linejoin="round"/>
<g fill="#ff0000"><rect x="470.10" y="99.20" width="3.20" height="3.60"/><rect x="473.15" y="95.80" width="3.20" height="3.60"/><rect x="476.21" y="97.60" width="3.20" height="3.60"/><rect x="479.26" y="89.00" width="3.20" height="3.60"/><rect x="482.32" y="78.90" width="3.20" height="3.60"/><rect x="485.37" y="63.00" width="3.20" height="3.60"/><rect x="488.43" y="36.90" width="3.20" height="3.60"/><rect x="506.75" y="261.10" width="3.20" height="3.60"/><rect x="509.81" y="232.80" width="3.20" height="3.60"/><rect x="512.86" y="215.80" width="3.20" height="3.60"/><rect x="515.92" y="204.70" width="3.20" height="3.60"/><rect x="518.97" y="196.80" width="3.20" height="3.60"/><rect x="522.03" y="190.80" width="3.20" height="3.60"/><rect x="525.08" y="186.20" width="3.20" height="3.60"/><rect x="528.14" y="182.30" width="3.20" height="3.60"/><rect x="531.19" y="179.40" width="3.20" height="3.60"/><rect x="534.25" y="176.80" width="3.20" height="3.60"/><rect x="537.30" y="174.60" width="3.20" height="3.60"/><rect x="540.35" y="172.60" width="3.20" height="3.60"/><rect x="546.04" y="170.37" width="3.20" height="3.60"/><rect x="549.52" y="168.90" width="3.20" height="3.60"/><rect x="552.57" y="167.80" width="3.20" height="3.60"/><rect x="555.63" y="166.70" width="3.20" height="3.60"/><rect x="558.68" y="166.00" width="3.20" height="3.60"/><rect x="561.74" y="165.30" width="3.20" height="3.60"/><rect x="564.79" y="164.70" width="3.20" height="3.60"/><rect x="567.85" y="164.00" width="3.20" height="3.60"/><rect x="570.90" y="163.31" width="3.20" height="3.60"/><rect x="573.95" y="162.62" width="3.20" height="3.60"/><rect x="577.01" y="162.00" width="3.20" height="3.60"/><rect x="580.06" y="161.49" width="3.20" height="3.60"/><rect x="583.12" y="161.03" width="3.20" height="3.60"/><rect x="586.17" y="160.60" width="3.20" height="3.60"/><rect x="589.23" y="160.20" width="3.20" height="3.60"/><rect x="592.28" y="159.83" width="3.20" height="3.60"/><rect x="595.34" y="159.47" width="3.20" height="3.60"/><rect x="598.39" y="159.12" width="3.20" height="3.60"/><rect x="601.45" y="158.79" width="3.20" height="3.60"/><rect x="604.50" y="158.48" width="3.20" height="3.60"/><rect x="607.55" y="158.18" width="3.20" height="3.60"/><rect x="610.61" y="157.89" width="3.20" height="3.60"/><rect x="613.66" y="157.61" width="3.20" height="3.60"/><rect x="616.72" y="157.35" width="3.20" height="3.60"/><rect x="619.77" y="157.10" width="3.20" height="3.60"/><rect x="622.83" y="156.87" width="3.20" height="3.60"/><rect x="625.88" y="156.65" width="3.20" height="3.60"/><rect x="628.94" y="156.43" width="3.20" height="3.60"/><rect x="631.99" y="156.18" width="3.20" height="3.60"/><rect x="636.57" y="155.71" width="3.20" height="3.60"/><rect x="638.10" y="155.55" width="3.20" height="3.60"/><rect x="641.15" y="155.25" width="3.20" height="3.60"/><rect x="644.21" y="154.97" width="3.20" height="3.60"/><rect x="647.26" y="154.69" width="3.20" height="3.60"/><rect x="650.32" y="154.42" width="3.20" height="3.60"/><rect x="653.37" y="154.17" width="3.20" height="3.60"/><rect x="656.43" y="153.93" width="3.20" height="3.60"/><rect x="659.48" y="153.71" width="3.20" height="3.60"/><rect x="662.54" y="153.51" width="3.20" height="3.60"/><rect x="665.59" y="153.31" width="3.20" height="3.60"/><rect x="668.65" y="153.13" width="3.20" height="3.60"/><rect x="671.70" y="152.95" width="3.20" height="3.60"/><rect x="674.75" y="152.78" width="3.20" height="3.60"/><rect x="677.81" y="152.59" width="3.20" height="3.60"/><rect x="680.86" y="152.40" width="3.20" height="3.60"/><rect x="683.92" y="152.21" width="3.20" height="3.60"/><rect x="686.97" y="152.03" width="3.20" height="3.60"/><rect x="690.03" y="151.84" width="3.20" height="3.60"/><rect x="693.08" y="151.65" width="3.20" height="3.60"/><rect x="696.14" y="151.47" width="3.20" height="3.60"/><rect x="699.19" y="151.29" width="3.20" height="3.60"/><rect x="702.25" y="151.10" width="3.20" height="3.60"/><rect x="705.30" y="150.90" width="3.20" height="3.60"/><rect x="708.35" y="150.71" width="3.20" height="3.60"/><rect x="711.41" y="150.53" width="3.20" height="3.60"/><rect x="714.46" y="150.37" width="3.20" height="3.60"/><rect x="717.52" y="150.24" width="3.20" height="3.60"/><rect x="720.57" y="150.13" width="3.20" height="3.60"/><rect x="723.63" y="150.03" width="3.20" height="3.60"/><rect x="726.68" y="149.94" width="3.20" height="3.60"/><rect x="729.74" y="149.85" width="3.20" height="3.60"/><rect x="732.79" y="149.77" width="3.20" height="3.60"/><rect x="735.85" y="149.69" width="3.20" height="3.60"/><rect x="738.90" y="149.62" width="3.20" height="3.60"/><rect x="741.95" y="149.55" width="3.20" height="3.60"/><rect x="745.01" y="149.49" width="3.20" height="3.60"/><rect x="748.06" y="149.43" width="3.20" height="3.60"/><rect x="751.12" y="149.38" width="3.20" height="3.60"/><rect x="754.17" y="149.34" width="3.20" height="3.60"/><rect x="757.23" y="149.30" width="3.20" height="3.60"/><rect x="760.28" y="149.27" width="3.20" height="3.60"/><rect x="763.34" y="149.23" width="3.20" height="3.60"/><rect x="766.39" y="149.21" width="3.20" height="3.60"/><rect x="769.45" y="149.18" width="3.20" height="3.60"/><rect x="772.50" y="149.16" width="3.20" height="3.60"/><rect x="775.55" y="149.14" width="3.20" height="3.60"/><rect x="778.61" y="149.12" width="3.20" height="3.60"/><rect x="781.66" y="149.10" width="3.20" height="3.60"/><rect x="784.72" y="149.08" width="3.20" height="3.60"/><rect x="787.77" y="149.07" width="3.20" height="3.60"/><rect x="790.83" y="149.05" width="3.20" height="3.60"/><rect x="793.88" y="149.04" width="3.20" height="3.60"/><rect x="796.94" y="149.03" width="3.20" height="3.60"/><rect x="799.99" y="149.02" width="3.20" height="3.60"/><rect x="803.05" y="149.01" width="3.20" height="3.60"/><rect x="806.10" y="149.00" width="3.20" height="3.60"/><rect x="772.10" y="238.10" width="3.20" height="3.60"/></g>
<g fill="#0000ff"><path d="M469.25 231.55H474.15L471.70 235.95z"/><path d="M472.30 206.65H477.20L474.75 211.05z"/><path d="M475.36 199.65H480.26L477.81 204.05z"/><path d="M478.41 159.15H483.31L480.86 163.55z"/><path d="M481.47 110.55H486.37L483.92 114.95z"/><path d="M484.52 40.25H489.42L486.97 44.65z"/><path d="M579.21 271.15H584.11L581.66 275.55z"/><path d="M582.27 266.05H587.17L584.72 270.45z"/><path d="M585.32 260.85H590.22L587.77 265.25z"/><path d="M588.38 255.95H593.28L590.83 260.35z"/><path d="M591.43 250.85H596.33L593.88 255.25z"/><path d="M594.49 246.45H599.39L596.94 250.85z"/><path d="M597.54 242.25H602.44L599.99 246.65z"/><path d="M600.60 238.15H605.50L603.05 242.55z"/><path d="M603.65 234.25H608.55L606.10 238.65z"/><path d="M606.70 230.25H611.60L609.15 234.65z"/><path d="M609.76 226.65H614.66L612.21 231.05z"/><path d="M612.81 222.95H617.71L615.26 227.35z"/><path d="M615.87 219.75H620.77L618.32 224.15z"/><path d="M618.92 216.35H623.82L621.37 220.75z"/><path d="M621.98 213.15H626.88L624.43 217.55z"/><path d="M625.03 210.25H629.93L627.48 214.65z"/><path d="M628.09 207.35H632.99L630.54 211.75z"/><path d="M631.14 204.65H636.04L633.59 209.05z"/><path d="M635.72 200.74H640.62L638.17 205.14z"/><path d="M637.25 199.55H642.15L639.70 203.95z"/><path d="M640.30 196.94H645.20L642.75 201.34z"/><path d="M643.36 194.23H648.26L645.81 198.63z"/><path d="M646.41 191.74H651.31L648.86 196.14z"/><path d="M649.47 189.66H654.37L651.92 194.06z"/><path d="M652.52 187.79H657.42L654.97 192.19z"/><path d="M655.58 186.07H660.48L658.03 190.47z"/><path d="M658.63 184.47H663.53L661.08 188.87z"/><path d="M661.69 182.94H666.59L664.14 187.34z"/><path d="M664.74 181.47H669.64L667.19 185.87z"/><path d="M667.80 180.08H672.70L670.25 184.48z"/><path d="M670.85 178.77H675.75L673.30 183.17z"/><path d="M673.90 177.56H678.80L676.35 181.96z"/><path d="M676.96 176.46H681.86L679.41 180.86z"/><path d="M680.01 175.46H684.91L682.46 179.86z"/><path d="M683.07 174.52H687.97L685.52 178.92z"/><path d="M686.12 173.63H691.02L688.57 178.03z"/><path d="M689.18 172.74H694.08L691.63 177.14z"/><path d="M692.23 171.88H697.13L694.68 176.28z"/><path d="M695.29 171.03H700.19L697.74 175.43z"/><path d="M698.34 170.22H703.24L700.79 174.62z"/><path d="M701.40 169.44H706.30L703.85 173.84z"/><path d="M704.45 168.69H709.35L706.90 173.09z"/><path d="M707.50 167.96H712.40L709.95 172.36z"/><path d="M710.56 167.27H715.46L713.01 171.67z"/><path d="M713.61 166.61H718.51L716.06 171.01z"/><path d="M716.67 165.99H721.57L719.12 170.39z"/><path d="M719.72 165.44H724.62L722.17 169.84z"/><path d="M722.78 164.92H727.68L725.23 169.32z"/><path d="M725.83 164.39H730.73L728.28 168.79z"/><path d="M728.89 163.87H733.79L731.34 168.27z"/><path d="M731.94 163.35H736.84L734.39 167.75z"/><path d="M735.00 162.83H739.90L737.45 167.23z"/><path d="M738.05 162.32H742.95L740.50 166.72z"/><path d="M741.10 161.81H746.00L743.55 166.21z"/><path d="M744.16 161.30H749.06L746.61 165.70z"/><path d="M747.21 160.80H752.11L749.66 165.20z"/><path d="M750.27 160.30H755.17L752.72 164.70z"/><path d="M753.32 159.81H758.22L755.77 164.21z"/><path d="M756.38 159.33H761.28L758.83 163.73z"/><path d="M759.43 158.85H764.33L761.88 163.25z"/><path d="M762.49 158.37H767.39L764.94 162.77z"/><path d="M765.54 157.90H770.44L767.99 162.30z"/><path d="M768.60 157.43H773.50L771.05 161.83z"/><path d="M771.65 156.97H776.55L774.10 161.37z"/><path d="M774.70 156.52H779.60L777.15 160.92z"/><path d="M777.76 156.08H782.66L780.21 160.48z"/><path d="M780.81 155.65H785.71L783.26 160.05z"/><path d="M783.87 155.23H788.77L786.32 159.63z"/><path d="M786.92 154.83H791.82L789.37 159.23z"/><path d="M789.98 154.44H794.88L792.43 158.84z"/><path d="M793.03 154.05H797.93L795.48 158.45z"/><path d="M796.09 153.65H800.99L798.54 158.05z"/><path d="M799.14 153.25H804.04L801.59 157.65z"/><path d="M802.20 149.75H807.10L804.65 154.15z"/><path d="M805.25 148.15H810.15L807.70 152.55z"/><path d="M771.25 260.45H776.15L773.70 264.85z"/></g>
<g font-family="Liberation Serif"><text transform="translate(739.15,244.60) scale(0.92,1)" text-anchor="start" font-size="14.7" >Δ</text><text transform="translate(747.25,238.30) scale(1.0,1)" text-anchor="start" font-size="10.6" stroke="#000" stroke-width="0.25">+</text><text transform="translate(747.35,249.00) scale(0.87,1)" text-anchor="start" font-size="12.4" font-weight="bold">1</text></g>
<g font-family="Liberation Serif"><text transform="translate(739.15,266.60) scale(0.92,1)" text-anchor="start" font-size="14.7" >Δ</text><text transform="translate(747.25,260.30) scale(1.0,1)" text-anchor="start" font-size="10.6" stroke="#000" stroke-width="0.25">+</text><text transform="translate(747.35,271.00) scale(0.87,1)" text-anchor="start" font-size="12.4" font-weight="bold">2</text></g>
<rect x="52.5" y="26.5" width="336.0" height="250.0" fill="none" stroke="#000" stroke-opacity="0.9" stroke-width="1"/>
<rect x="472.0" y="26.5" width="335.70000000000005" height="250.0" fill="none" stroke="#000" stroke-opacity="0.9" stroke-width="1"/>
</svg>
</body></html>
